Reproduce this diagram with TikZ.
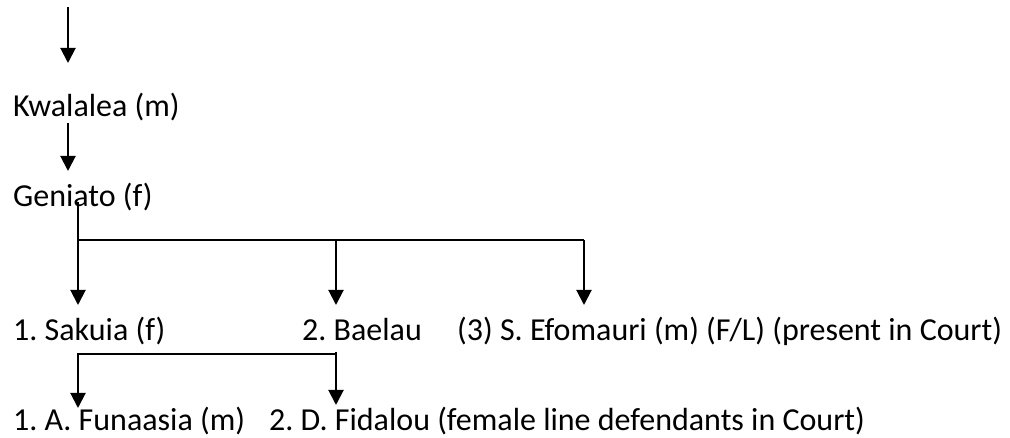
\documentclass[tikz,border=0pt]{standalone}
\usepackage{fontspec}
\setmainfont{Carlito}
\usetikzlibrary{arrows.meta}
\begin{document}
\frenchspacing
\begin{tikzpicture}[x=1pt,y=-1pt,
  lbl/.style={anchor=base west,inner sep=0pt,font=\fontsize{32}{38}\selectfont},
  arr/.style={line width=2pt,-{Triangle[width=15pt,length=15pt]}},
  ln/.style={line width=2pt}]
\useasboundingbox (0,0) rectangle (1010,438);
% text nodes
\node[lbl] (kw) at (13,117) {Kwalalea (m)};
\node[lbl] (ge) at (13,207) {Geniato (f)};
\node[lbl] (sa) at (13,341) {1. Sakuia (f)};
\node[lbl] (ba) at (302,341) {2. Baelau};
\node[lbl] (ef) at (457,341) {(3) S. Efomauri (m) (F/L) (present in Court)};
\node[lbl] (fu) at (13,431) {1. A. Funaasia (m)};
\node[lbl] (fi) at (269,431) {2. D. Fidalou (female line defendants in Court)};
% connector points
\coordinate (top) at (68,7);
\coordinate (kwtip) at (68,63);
\coordinate (kwb) at (68,123);
\coordinate (getip) at (68,171);
\coordinate (geb) at (78,202);
\coordinate (bar) at (78,240);
\coordinate (satip) at (78,305);
\coordinate (batip) at (336,305);
\coordinate (eftip) at (584,305);
\coordinate (bab) at (336,352);
\coordinate (futip) at (78,408);
\coordinate (fitip) at (336,405);
% connectors
\draw[arr] (top) -- (kwtip);
\draw[arr] (kwb) -- (getip);
\draw[arr] (geb) -- (satip);
\draw[ln] (bar) -| (eftip |- bar);
\draw[arr] (eftip |- bar) -- (eftip);
\draw[arr] (batip |- bar) -- (batip);
\draw[arr] (bab) -- (fitip);
\draw[arr] ([yshift=-2pt]bab) -| (futip);
\end{tikzpicture}
\end{document}
